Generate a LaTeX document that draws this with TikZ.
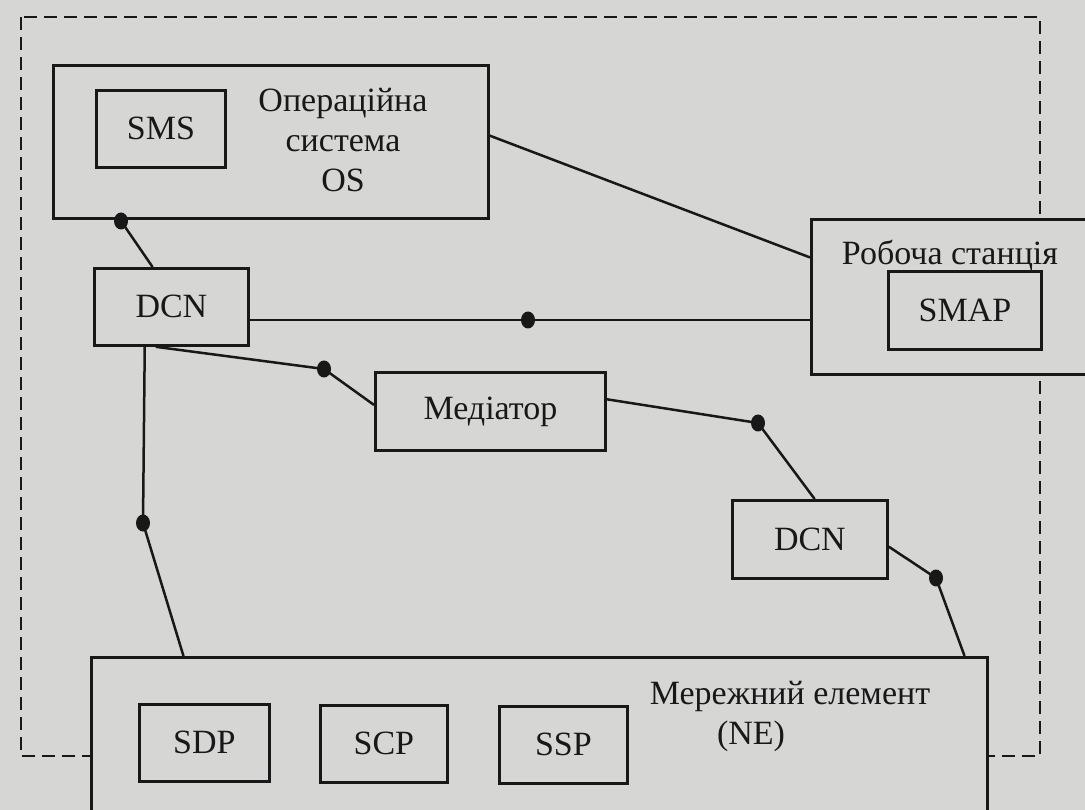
\documentclass[tikz,border=0pt]{standalone}
\usepackage{fontspec}
\setmainfont{Liberation Serif}
\usetikzlibrary{calc}
\definecolor{bg}{RGB}{214,214,212}
\definecolor{ink}{RGB}{24,24,24}
\tikzset{
  box/.style={draw=ink, line width=2.8pt, fill=bg, inner sep=0pt, anchor=north west},
  lbl/.style={font=\fontsize{34}{40}\selectfont, text=ink, inner sep=0pt, align=center},
  conn/.style={draw=ink, line width=2.5pt},
  frame/.style={draw=ink, line width=2pt, dash pattern=on 13pt off 7pt},
  dot/.style={ellipse, fill=ink, inner sep=0pt, minimum width=14pt, minimum height=17pt}
}
\usetikzlibrary{shapes.geometric}
\begin{document}
\begin{tikzpicture}[x=1pt,y=-1pt]
\useasboundingbox (0,0) rectangle (1085,810);
\fill[bg] (0,0) rectangle (1085,810);
\clip (0,0) rectangle (1085,810);
% dashed frame
\draw[frame] (21,17) rectangle (1040,756);
% boxes
\node[box, minimum width=435pt, minimum height=153pt] (os) at (52,64) {};
\node[box, minimum width=129pt, minimum height=77pt] (sms) at (95,89) {};
\node[lbl] at (sms.center) {SMS};
\node[lbl] (ostext) at (343,140) {Операційна\\система\\OS};
\node[box, minimum width=154pt, minimum height=77pt] (dcn1) at (93,267) {};
\node[lbl] at (dcn1.center) {DCN};
\node[box, minimum width=300pt, minimum height=155pt] (ws) at (810,218) {};
\node[lbl, anchor=base] (wstext) at (950,265) {Робоча станція};
\node[box, minimum width=153pt, minimum height=78pt] (smap) at (887,270) {};
\node[lbl] at (smap.center) {SMAP};
\node[box, minimum width=230pt, minimum height=78pt] (med) at (374,371) {};
\node[lbl] at (med.center) {Медіатор};
\node[box, minimum width=155pt, minimum height=78pt] (dcn2) at (731,499) {};
\node[lbl] at (dcn2.center) {DCN};
\node[box, minimum width=896pt, minimum height=160pt] (ne) at (90,656) {};
\node[lbl, anchor=base] (netext) at (790,704) {Мережний елемент};
\node[lbl, anchor=base] (ne2) at (751,744) {(NE)};
\node[box, minimum width=130pt, minimum height=77pt] (sdp) at (138,703) {};
\node[lbl] at (sdp.center) {SDP};
\node[box, minimum width=127pt, minimum height=77pt] (scp) at (319,704) {};
\node[lbl] at (scp.center) {SCP};
\node[box, minimum width=128pt, minimum height=77pt] (ssp) at (498,705) {};
\node[lbl] at (ssp.center) {SSP};
% dot positions
\coordinate (d1) at (121,221);
\coordinate (d2) at (528,320);
\coordinate (d3) at (324,369);
\coordinate (d4) at (758,423);
\coordinate (d5) at (143,523);
\coordinate (d6) at (936,578);
% connectors
\draw[conn] (d1) -- ($(dcn1.north west)!0.38!(dcn1.north east)$);
\draw[conn] ($(os.north east)!0.46!(os.south east)$) -- ($(ws.north west)!0.25!(ws.south west)$);
\draw[conn] (d2 -| dcn1.east) -- (d2 -| ws.west);
\draw[conn] ($(dcn1.south west)!0.40!(dcn1.south east)$) -- (d3) -- ($(med.north west)!0.42!(med.south west)$);
\draw[conn] ($(med.north east)!0.35!(med.south east)$) -- (d4) -- ($(dcn2.north west)!0.53!(dcn2.north east)$);
\draw[conn] ($(dcn1.south west)!0.33!(dcn1.south east)$) -- (d5) -- ($(ne.north west)!0.104!(ne.north east)$);
\draw[conn] ($(dcn2.north east)!0.59!(dcn2.south east)$) -- (d6) -- ($(ne.north west)!0.973!(ne.north east)$);
% dots
\foreach \d in {d1,d2,d3,d4,d5,d6} \node[dot] (dot-\d) at (\d) {};
\end{tikzpicture}
\end{document}
